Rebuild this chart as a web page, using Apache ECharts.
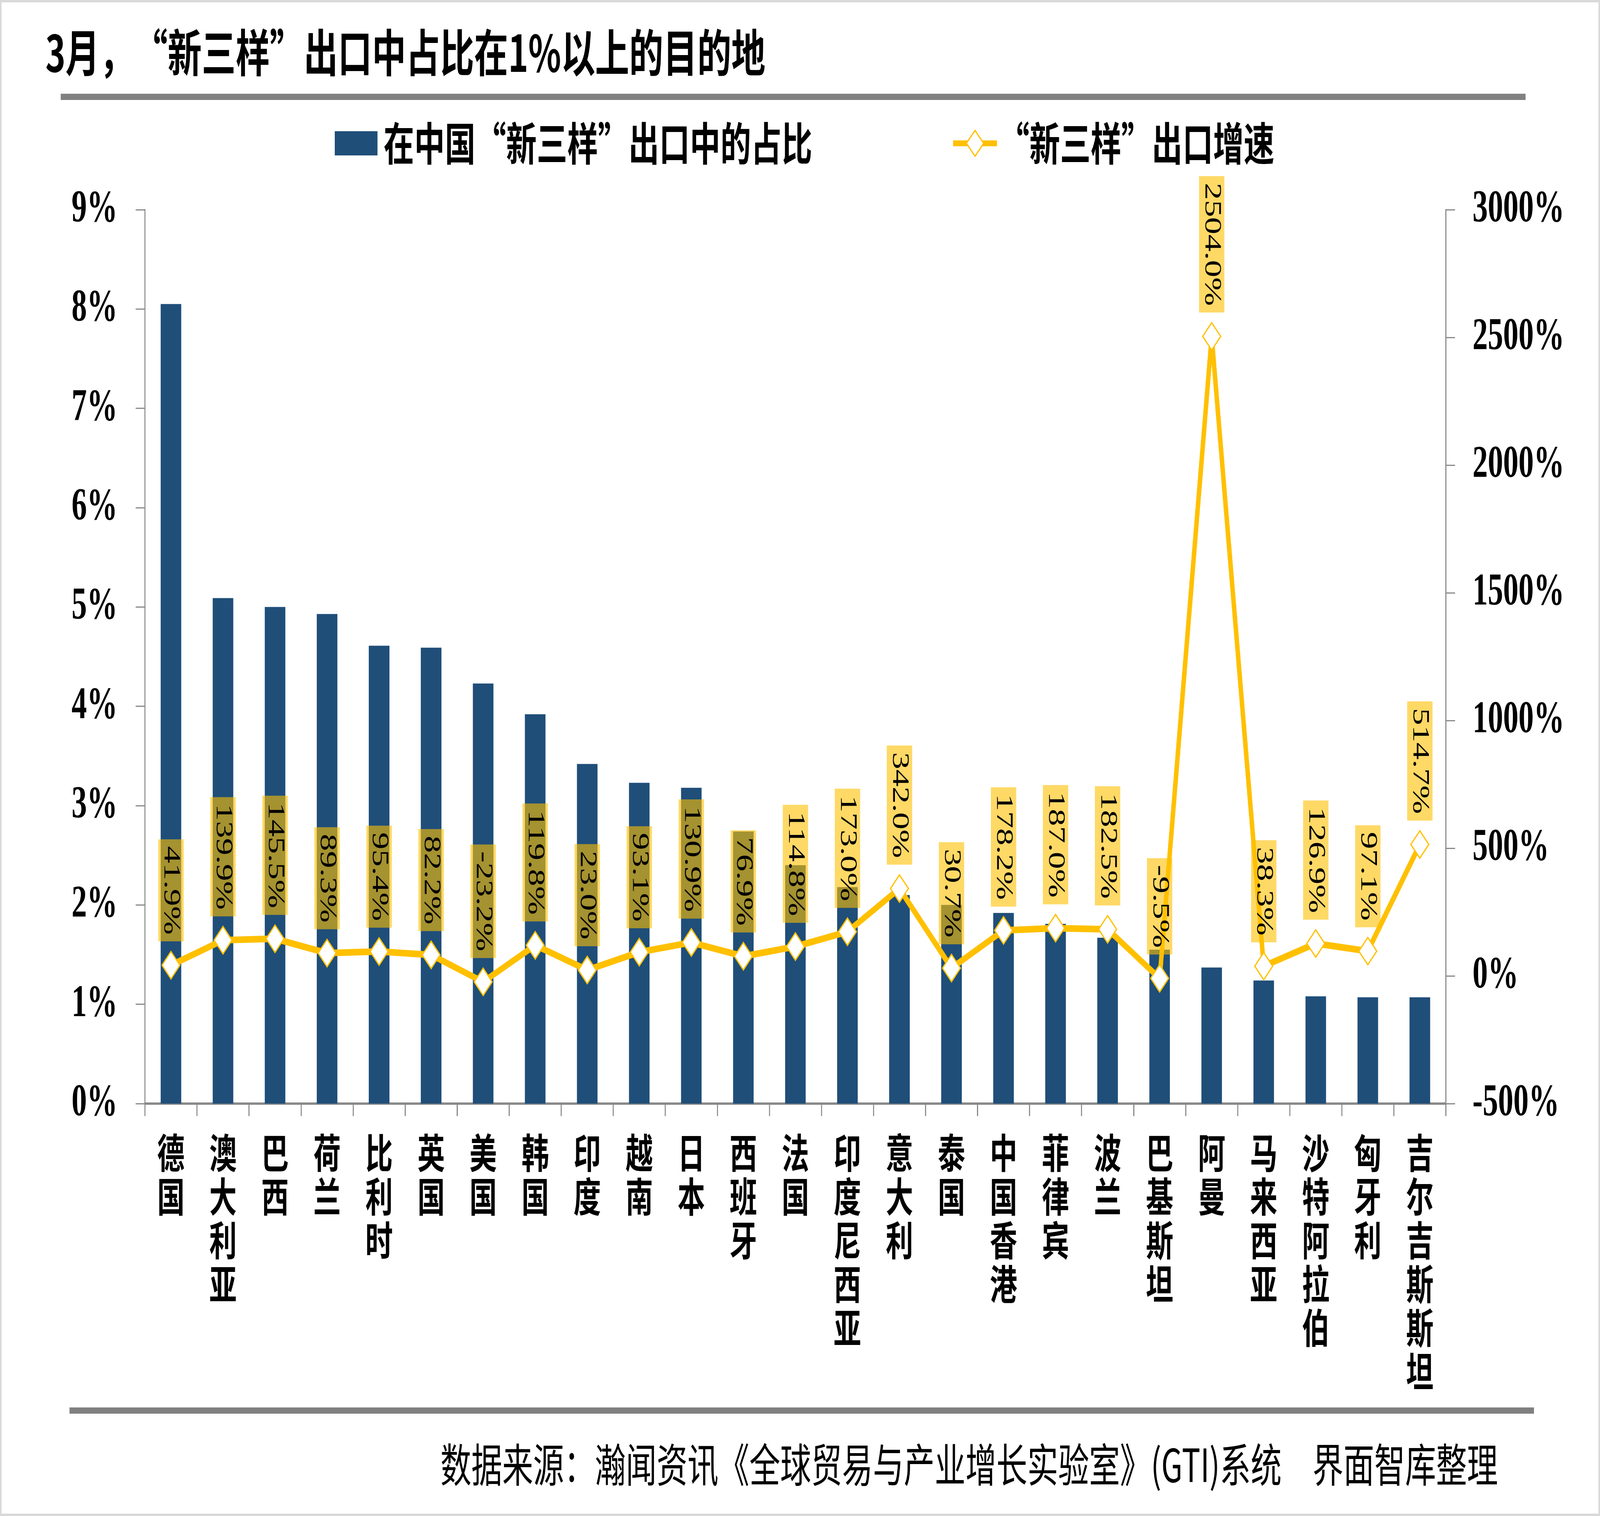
<!DOCTYPE html>
<html>
<head>
<meta charset="utf-8">
<script src="https://cdn.jsdelivr.net/npm/echarts/dist/echarts.min.js"></script>
<style>
html,body{margin:0;padding:0;background:#fff;overflow:hidden;width:100%;height:100%;}
#chart{position:absolute;left:0;top:0;width:6061px;height:3882px;transform-origin:0 0;}
</style>
</head>
<body>
<div id="chart"></div>
<script>
const titleText = '3月，“新三样”出口中占比在1%以上的目的地';
const sourceText = '数据来源：瀚闻资讯《全球贸易与产业增长实验室》(GTI)系统　界面智库整理';
const barName = '在中国“新三样”出口中的占比';
const lineName = '“新三样”出口增速';

const categories = ['德国','澳大利亚','巴西','荷兰','比利时','英国','美国','韩国','印度','越南','日本','西班牙','法国','印度尼西亚','意大利','泰国','中国香港','菲律宾','波兰','巴基斯坦','阿曼','马来西亚','沙特阿拉伯','匈牙利','吉尔吉斯斯坦'];
// share of China's "new three" exports, in percent
const shareValues = [8.05, 5.09, 5.00, 4.93, 4.61, 4.59, 4.23, 3.92, 3.42, 3.23, 3.18, 2.74, 2.40, 2.18, 2.10, 2.00, 1.92, 1.81, 1.67, 1.55, 1.37, 1.24, 1.08, 1.07, 1.07];
// export growth, in percent
const growthValues = [41.9, 139.9, 145.5, 89.3, 95.4, 82.2, -23.2, 119.8, 23.0, 93.1, 130.9, 76.9, 114.8, 173.0, 342.0, 30.7, 178.2, 187.0, 182.5, -9.5, 2504.0, 38.3, 126.9, 97.1, 514.7];

const leftAxisTicks = {min: 0, max: 9, interval: 1};
const rightAxisTicks = {min: -500, max: 3000, interval: 500};

const DESIGN_W = 6061, DESIGN_H = 3882;
const AXIS_GRAY = '#898989';
const NUM_FONT = '"Liberation Serif", "Times New Roman", serif';
const CJK_FONT = '"Noto Sans CJK SC", sans-serif';

// fit the fixed-size chart into whatever viewport the browser actually has
const el = document.getElementById('chart');
function fit() {
  const sx = (window.innerWidth || DESIGN_W) / DESIGN_W;
  const sy = (window.innerHeight || DESIGN_H) / DESIGN_H;
  el.style.transform = (Math.abs(sx - 1) < 1e-6 && Math.abs(sy - 1) < 1e-6) ? 'none' : 'scale(' + sx + ',' + sy + ')';
}
fit();

const chart = echarts.init(el, null, {renderer: 'canvas', width: DESIGN_W, height: DESIGN_H});

const legendText = {fontFamily: CJK_FONT, fontWeight: 'bold', fontSize: 116, lineHeight: 116, color: '#000'};
const pct = v => String(v) + '%';

const option = {
  animation: false,
  backgroundColor: '#ffffff',
  graphic: [
    {type: 'rect', shape: {x: 3, y: 3, width: 6055, height: 3876}, style: {fill: 'none', stroke: '#D9D9D9', lineWidth: 6}, silent: true},
    {type: 'rect', shape: {x: 230, y: 240, width: 5549, height: 16}, style: {fill: '#808080'}, silent: true},
    {type: 'rect', shape: {x: 263, y: 3604, width: 5548, height: 16}, style: {fill: '#808080'}, silent: true},
    {type: 'text', left: 172, top: 70, style: {text: titleText, font: 'bold 129px ' + CJK_FONT, fill: '#000'}, silent: true},
    {type: 'text', right: DESIGN_W - 5674, top: 3692, style: {text: sourceText, font: '117px ' + CJK_FONT, fill: '#000'}, silent: true}
  ],
  legend: [
    {
      data: [{name: barName, icon: 'rect'}], left: 1263, top: 304, itemWidth: 162, itemHeight: 62,
      textStyle: Object.assign({padding: [0, 0, 0, 18]}, legendText),
      selectedMode: false
    },
    {
      data: [lineName], left: 3598, top: 304, itemWidth: 166, itemHeight: 82,
      lineStyle: {width: 15, color: '#FFC000'},
      itemStyle: {color: '#ffffff', borderColor: '#FFC000', borderWidth: 4},
      textStyle: Object.assign({padding: [0, 0, 0, 2]}, legendText),
      selectedMode: false
    }
  ],
  grid: {left: 549, right: 584, top: 537, bottom: 1056, containLabel: false},
  xAxis: {
    type: 'category',
    data: categories,
    boundaryGap: true,
    axisLine: {show: true, lineStyle: {color: AXIS_GRAY, width: 6}},
    axisTick: {show: true, length: 32, lineStyle: {color: AXIS_GRAY, width: 4}},
    axisLabel: {
      interval: 0, margin: 70, color: '#000', fontFamily: CJK_FONT, fontWeight: 'bold',
      fontSize: 104, lineHeight: 112, verticalAlign: 'top',
      formatter: v => v.split('').join('\n')
    },
    splitLine: {show: false}
  },
  yAxis: [
    {
      type: 'value', position: 'left',
      min: leftAxisTicks.min, max: leftAxisTicks.max, interval: leftAxisTicks.interval,
      axisLine: {show: true, lineStyle: {color: AXIS_GRAY, width: 4}},
      axisTick: {show: true, length: 35, lineStyle: {color: AXIS_GRAY, width: 3}},
      splitLine: {show: false},
      axisLabel: {formatter: pct, color: '#000', fontFamily: NUM_FONT, fontWeight: 'bold', fontSize: 116, margin: 104}
    },
    {
      type: 'value', position: 'right',
      min: rightAxisTicks.min, max: rightAxisTicks.max, interval: rightAxisTicks.interval,
      axisLine: {show: true, lineStyle: {color: AXIS_GRAY, width: 4}},
      axisTick: {show: true, length: 35, lineStyle: {color: AXIS_GRAY, width: 3}},
      splitLine: {show: false},
      axisLabel: {formatter: pct, color: '#000', fontFamily: NUM_FONT, fontWeight: 'bold', fontSize: 116, margin: 101}
    }
  ],
  series: [
    {
      name: barName, type: 'bar', yAxisIndex: 0, data: shareValues,
      barWidth: 78, itemStyle: {color: '#1F4E79'}
    },
    {
      name: lineName, type: 'line', yAxisIndex: 1, data: growthValues,
      symbol: 'diamond', symbolSize: [68, 70], showAllSymbol: true,
      lineStyle: {color: '#FFC000', width: 17},
      itemStyle: {color: '#ffffff', borderColor: '#FFC000', borderWidth: 4},
      z: 5,
      label: {
        show: true, position: 'top', distance: 24, rotate: -90,
        align: 'right', verticalAlign: 'middle',
        fontFamily: NUM_FONT, fontSize: 88, lineHeight: 88, color: '#000',
        backgroundColor: 'rgba(255,192,0,0.6)', padding: [4, 17, 4, 17],
        formatter: p => p.value.toFixed(1) + '%'
      }
    }
  ]
};
chart.setOption(option);
window.addEventListener('resize', fit);
</script>
</body>
</html>
